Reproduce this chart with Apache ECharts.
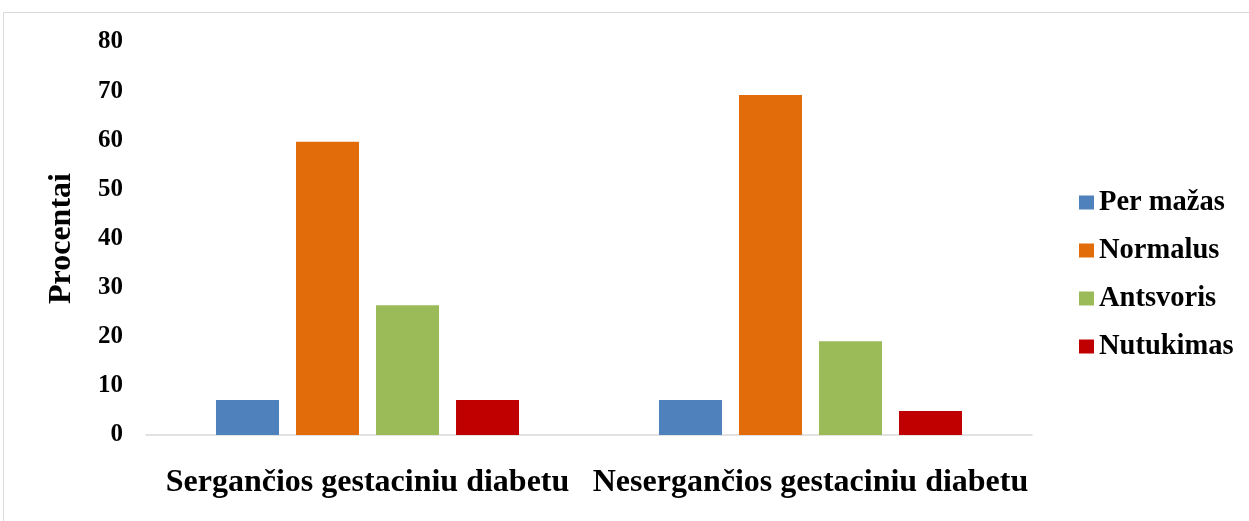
<!DOCTYPE html>
<html>
<head>
<meta charset="utf-8">
<script src="https://cdn.jsdelivr.net/npm/echarts@6/dist/echarts.min.js"></script>
<style>
  html, body { margin: 0; padding: 0; background: #ffffff; }
  #chart { width: 1249px; height: 521px; }
</style>
</head>
<body>
<div id="chart"></div>
<script>
// Groups on the category axis
const categories = ['Sergančios gestaciniu diabetu', 'Nesergančios gestaciniu diabetu'];

// Percentages per weight group
const perMazas  = [7.1, 7.1];
const normalus  = [59.7, 69.2];
const antsvoris = [26.4, 19.1];
const nutukimas = [7.1, 4.9];

const seriesNames = ['Per mažas', 'Normalus', 'Antsvoris', 'Nutukimas'];
const seriesValues = [perMazas, normalus, antsvoris, nutukimas];
const seriesColors = ['#4F81BD', '#E36C0A', '#9BBB59', '#C00000'];

const FONT = '"Liberation Serif", "Times New Roman", serif';

const chart = echarts.init(document.getElementById('chart'), null, { renderer: 'canvas' });

chart.setOption({
  animation: false,
  backgroundColor: '#ffffff',
  graphic: [{
    type: 'rect',
    shape: { x: 3.5, y: 12.5, width: 1400, height: 600 },
    style: { fill: 'none', stroke: '#d9d9d9', lineWidth: 1 },
    silent: true
  }],
  grid: { left: 146, right: 217, top: 42, bottom: 86 },
  legend: {
    orient: 'vertical',
    left: 1074,
    top: 183,
    icon: 'rect',
    itemWidth: 15,
    itemHeight: 14,
    itemGap: 19,
    textStyle: {
      fontFamily: FONT, fontWeight: 'bold', fontSize: 28.5, color: '#000000',
      lineHeight: 29
    },
    data: seriesNames
  },
  xAxis: {
    type: 'category',
    data: categories,
    axisLine: { show: true, lineStyle: { color: '#d9d9d9', width: 1.5 } },
    axisTick: { show: false },
    axisLabel: {
      fontFamily: FONT, fontWeight: 'bold', fontSize: 32, color: '#000000',
      margin: 32, interval: 0
    }
  },
  yAxis: {
    type: 'value',
    min: 0, max: 80, interval: 10,
    name: 'Procentai',
    nameLocation: 'middle',
    nameRotate: 90,
    nameGap: 68,
    nameTextStyle: { fontFamily: FONT, fontWeight: 'bold', fontSize: 32, color: '#000000' },
    axisLine: { show: false },
    axisTick: { show: false },
    splitLine: { show: false },
    axisLabel: {
      fontFamily: FONT, fontWeight: 'bold', fontSize: 25, color: '#000000', margin: 23
    }
  },
  series: seriesNames.map((name, i) => ({
    name: name,
    type: 'bar',
    data: seriesValues[i],
    barWidth: 63,
    barGap: '27%',
    itemStyle: { color: seriesColors[i] }
  }))
});
</script>
</body>
</html>
